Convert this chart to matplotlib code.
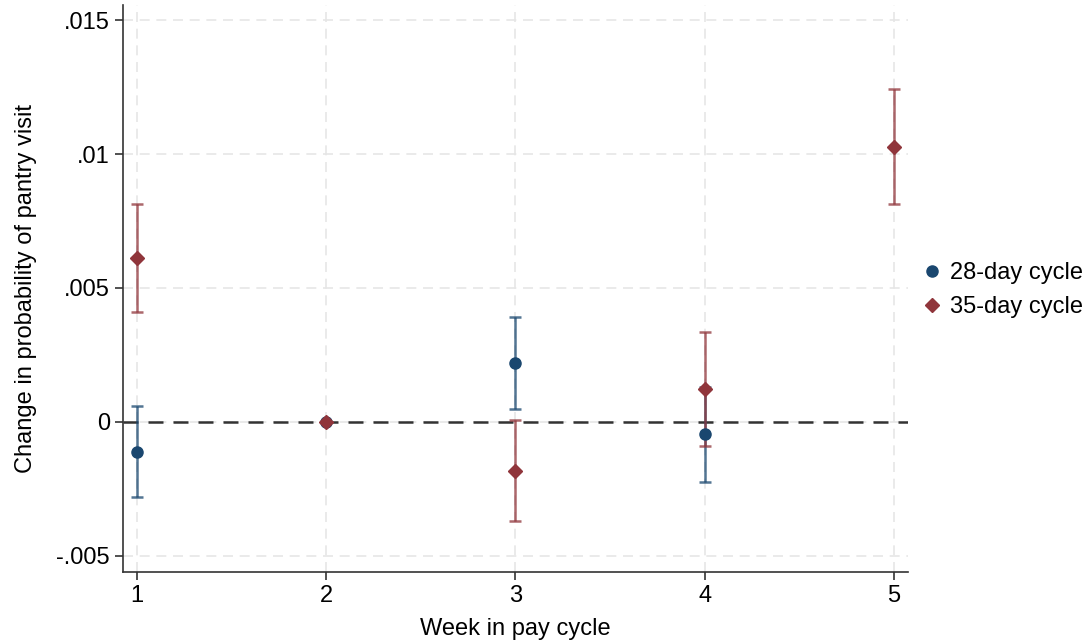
import matplotlib
matplotlib.use("Agg")
import matplotlib.pyplot as plt
import numpy as np

plt.rcParams['font.family'] = ['Liberation Sans', 'DejaVu Sans']

weeks = [1, 2, 3, 4, 5]
# 28-day cycle (weeks 1-4)
w28 = [1, 2, 3, 4]
est28 = [-0.00111, 0.0, 0.00221, -0.00046]
lo28 = [-0.00279, 0.0, 0.00047, -0.00224]
hi28 = [0.00060, 0.0, 0.00390, 0.00132]
# 35-day cycle (weeks 1-5)
w35 = [1, 2, 3, 4, 5]
est35 = [0.00611, 0.0, -0.00182, 0.00122, 0.01027]
lo35 = [0.00410, 0.0, -0.00370, -0.00088, 0.00812]
hi35 = [0.00812, 0.0, 0.00006, 0.00336, 0.01243]

yticks = [-0.005, 0, 0.005, 0.01, 0.015]
ytick_labels = ['-.005', '0', '.005', '.01', '.015']

blue = '#1a476f'
red = '#90353b'
fs = 17

fig = plt.figure(figsize=(10.91, 6.44), dpi=100)
ax = fig.add_axes([0.1127, 0.1118, 0.7196, 0.8804])

for x in weeks:
    ax.axvline(x, color='#e6e6e6', lw=1.2, ls=(0, (6, 4)), zorder=0)
for y in yticks:
    ax.axhline(y, color='#e6e6e6', lw=1.2, ls=(0, (6, 4)), zorder=0)
ax.axhline(0, color='#333333', lw=1.8, ls=(0, (6, 4)), zorder=1)

def draw(xs, est, lo, hi, color, marker, ms, label):
    est = np.array(est); lo = np.array(lo); hi = np.array(hi)
    ax.errorbar(xs, est, yerr=[est - lo, hi - est], fmt='none', ecolor=color,
                alpha=0.75, elinewidth=1.8, capsize=4, capthick=1.8, zorder=2)
    ax.plot(xs, est, ls='none', marker=marker, color=color, ms=ms, zorder=3, label=label)

draw(w28, est28, lo28, hi28, blue, 'o', 8, '28-day cycle')
draw(w35, est35, lo35, hi35, red, 'D', 7.5, '35-day cycle')

ax.set_xlim(0.926, 5.074)
ax.set_ylim(-0.0056, 0.01556)
ax.set_xticks(weeks)
ax.set_xticklabels([str(w) for w in weeks])
ax.set_yticks(yticks)
ax.set_yticklabels(ytick_labels)
ax.tick_params(axis='both', labelsize=fs, length=6, width=1.2, color='#333333', direction='out')
for s in ['top', 'right']:
    ax.spines[s].set_visible(False)
for s in ['left', 'bottom']:
    ax.spines[s].set_color('#333333')
    ax.spines[s].set_linewidth(1.2)

ax.set_xlabel('Week in pay cycle', fontsize=fs, labelpad=8)
ax.set_ylabel('Change in probability of pantry visit', fontsize=fs, labelpad=14)

fig.legend(*ax.get_legend_handles_labels(), loc='center left',
           bbox_to_anchor=(923 / 1091, 1 - 290 / 644), bbox_transform=fig.transFigure,
           frameon=False, fontsize=fs, borderpad=0, borderaxespad=0,
           handletextpad=0.35, handlelength=0.8, labelspacing=0.5)

fig.savefig('out.png', dpi=100)
